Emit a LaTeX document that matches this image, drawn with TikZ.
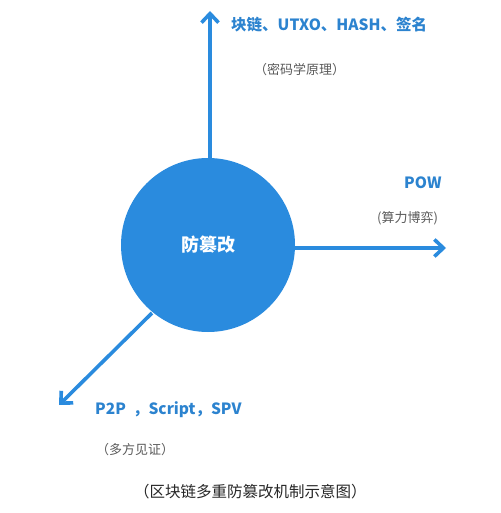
\documentclass[tikz,border=0pt]{standalone}
\usepackage{fontspec}
\setmainfont{Noto Sans CJK SC}
\usetikzlibrary{arrows.meta}
\definecolor{coreblue}{HTML}{2A8BDE}
\definecolor{labelblue}{HTML}{2C83CF}
\definecolor{notegray}{HTML}{5A5A5A}
\tikzset{
  axis/.style={coreblue,line width=3.6pt,-{Straight Barb[length=9pt,width=17pt,line width=3.6pt]}},
  lbl/.style={labelblue,font=\bfseries\fontsize{15.5}{18}\selectfont,anchor=west,inner sep=0pt},
  note/.style={notegray,font=\fontsize{13}{15}\selectfont,anchor=west,inner sep=0pt}
}
\begin{document}
\begin{tikzpicture}[x=1pt,y=-1pt]
\useasboundingbox (0,0) rectangle (500,513);
\node[circle,fill=coreblue,minimum size=174pt,inner sep=0pt,text=white,
  font=\bfseries\fontsize{18}{20}\selectfont] (core) at (208,245) {防篡改};
\coordinate (tipN) at (210,11);
\coordinate (tipE) at (446,248);
\coordinate (tipSW) at (59,405);
\draw[axis] (core.north -| tipN) -- (tipN);
\draw[axis] (core.east |- tipE) -- (tipE);
\draw[axis] (core) ++(-56,68) coordinate (startSW) -- (tipSW);

% labels
\node[lbl] (crypto) at (231,25) {块链、UTXO、HASH、签名};
\node[note] (cryptonote) at (254,70) {（密码学原理）};
\node[lbl] (pow) at (404,183) {POW};
\node[note] (pownote) at (377,218) {(算力博弈)};
\node[lbl] (p2p) at (95,410) {P2P\ \ ，Script，SPV};
\node[note] (p2pnote) at (96,450) {（多方见证）};
\node[black!85,font=\fontsize{15.5}{18}\selectfont,anchor=west,inner sep=0pt] (caption) at (134,492) {（区块链多重防篡改机制示意图）};
\end{tikzpicture}
\end{document}
